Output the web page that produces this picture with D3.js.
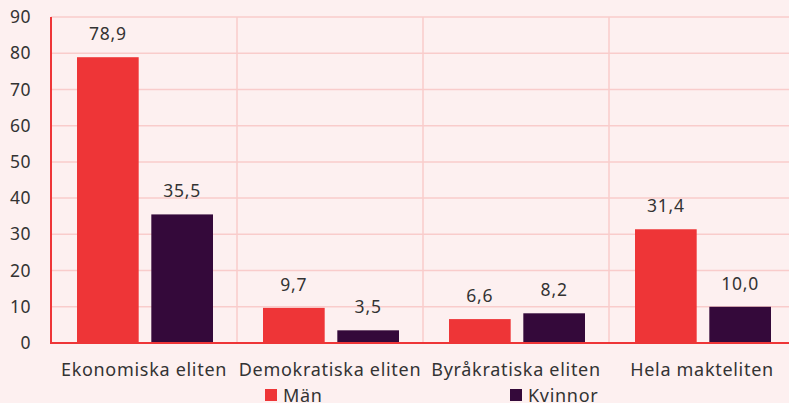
<!DOCTYPE html>
<html>
<head>
<meta charset="utf-8">
<script src="https://cdn.jsdelivr.net/npm/d3@7"></script>
<style>
  html, body { margin: 0; padding: 0; background: #fdf0f0; }
  svg { display: block; font-family: "Noto Sans", sans-serif; }
</style>
</head>
<body>
<svg id="chart" width="789" height="403"></svg>
<script>
// Chart data
const categories = ["Ekonomiska eliten", "Demokratiska eliten", "Byråkratiska eliten", "Hela makteliten"];
const seriesNames = ["Män", "Kvinnor"];
const manValues = [78.9, 9.7, 6.6, 31.4];
const kvinnorValues = [35.5, 3.5, 8.2, 10.0];
const yTicks = [0, 10, 20, 30, 40, 50, 60, 70, 80, 90];
const colors = ["#ee3537", "#34093a"];

const svg = d3.select("#chart");
const margin = { top: 17, right: -6, bottom: 60, left: 51 };
const width = 789 - margin.left - margin.right;
const height = 403 - margin.top - margin.bottom;

const x0 = d3.scaleBand().domain(categories).range([0, width]).paddingInner(0).paddingOuter(0);
const x1 = d3.scaleBand().domain(seriesNames).range([26, x0.bandwidth() - 24]).paddingInner(0.17);
const y = d3.scaleLinear().domain([0, 90]).range([height, 0]);

const g = svg.append("g").attr("transform", `translate(${margin.left},${margin.top})`);

// grid
g.selectAll(".hgrid").data(yTicks.filter(d => d > 0)).enter().append("line")
    .attr("x1", 0).attr("x2", width)
    .attr("y1", d => y(d)).attr("y2", d => y(d))
    .attr("stroke", "#f9cccb").attr("stroke-width", 1.5);

g.selectAll(".vgrid").data(categories.slice(1)).enter().append("line")
    .attr("x1", d => x0(d)).attr("x2", d => x0(d))
    .attr("y1", 0).attr("y2", height)
    .attr("stroke", "#f9cccb").attr("stroke-width", 1.5);

// bars
const data = categories.map((c, i) => ({ cat: c, vals: [manValues[i], kvinnorValues[i]] }));
const groups = g.selectAll(".grp").data(data).enter().append("g")
    .attr("transform", d => `translate(${x0(d.cat)},0)`);

groups.selectAll("rect").data(d => d.vals.map((v, j) => ({ s: seriesNames[j], v, j }))).enter().append("rect")
    .attr("x", d => x1(d.s))
    .attr("y", d => y(d.v))
    .attr("width", x1.bandwidth())
    .attr("height", d => height - y(d.v))
    .attr("fill", d => colors[d.j]);

groups.selectAll("text").data(d => d.vals.map((v, j) => ({ s: seriesNames[j], v }))).enter().append("text")
    .attr("x", d => x1(d.s) + x1.bandwidth() / 2)
    .attr("y", d => y(d.v) - 17)
    .attr("text-anchor", "middle")
    .attr("font-size", 17.5)
    .attr("letter-spacing", 0.8)
    .attr("fill", "#333")
    .text(d => d.v.toFixed(1).replace(".", ","));

// axes
const yAxis = g.append("g").call(d3.axisLeft(y).tickValues(yTicks).tickSize(0).tickPadding(20));
yAxis.select(".domain").remove();
yAxis.selectAll("text").attr("font-size", 17.5).attr("fill", "#333")
    .attr("font-family", "Noto Sans, sans-serif").attr("letter-spacing", 0.5);

g.append("line").attr("x1", 0).attr("x2", 0).attr("y1", 0).attr("y2", height + 1)
    .attr("stroke", "#ee3537").attr("stroke-width", 2);
g.append("line").attr("x1", 0).attr("x2", width).attr("y1", height).attr("y2", height)
    .attr("stroke", "#ee3537").attr("stroke-width", 2);

const xAxis = g.append("g").attr("transform", `translate(0,${height})`)
    .call(d3.axisBottom(x0).tickSize(0).tickPadding(20));
xAxis.select(".domain").remove();
xAxis.selectAll("text").attr("font-size", 18).attr("fill", "#333")
    .attr("font-family", "Noto Sans, sans-serif").attr("letter-spacing", 0.7);

// legend
const legendX = [265, 510];
const legend = svg.selectAll(".legend").data(seriesNames).enter().append("g")
    .attr("transform", (d, i) => `translate(${legendX[i]},389)`);
legend.append("rect").attr("width", 12).attr("height", 12).attr("fill", (d, i) => colors[i]);
legend.append("text").attr("x", 18).attr("y", 13).attr("font-size", 18)
    .attr("letter-spacing", 0.7).attr("fill", "#333").text(d => d);
</script>
</body>
</html>
